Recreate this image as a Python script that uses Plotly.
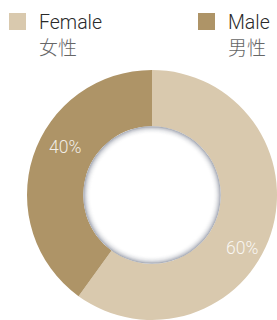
import plotly.graph_objects as go

# ---- data ----
categories = ["Female", "Male"]
categories_zh = ["女性", "男性"]
values = [60, 40]
colors = ["#d9c9ae", "#ae9467"]

W, H = 277, 320
R = 125            # outer radius px
CX, CY = 152, 195  # pie centre px
HOLE = 0.55

def px(x):
    return min(max(x / W, 0), 1)

def py(y):
    return min(max(1 - y / H, 0), 1)

fig = go.Figure()
fig.add_trace(go.Pie(
    labels=categories,
    values=values,
    marker=dict(colors=colors, line=dict(width=0)),
    hole=HOLE,
    sort=False,
    direction="clockwise",
    rotation=0,
    textinfo="none",
    hoverinfo="label+percent",
    showlegend=False,
    domain=dict(x=[px(CX - R), px(CX + R)], y=[py(CY + R), py(CY - R)]),
))

shapes = []
# inner shadow of the hole: stacked filled circles fading to white
inner_r = R * HOLE
edge = (172, 176, 186)
n = 9
for i in range(n + 1):
    t = i / n
    f = (1 - t) ** 2.4
    c = tuple(int(round(255 - (255 - e) * f)) for e in edge)
    rr = inner_r - i * 0.9
    shapes.append(dict(
        type="circle", xref="paper", yref="paper",
        xsizemode="pixel", ysizemode="pixel",
        xanchor=CX / W, yanchor=1 - CY / H,
        x0=-rr, x1=rr, y0=-rr, y1=rr,
        fillcolor="rgb(%d,%d,%d)" % c, line=dict(width=0), layer="above",
    ))

# legend swatches
sw_x = [9, 198]
for xs, col in zip(sw_x, colors):
    shapes.append(dict(
        type="rect", xref="paper", yref="paper",
        x0=px(xs), x1=px(xs + 17), y0=py(30), y1=py(13),
        fillcolor=col, line=dict(width=0),
    ))

annotations = []
for xs, en, zh in zip(sw_x, categories, categories_zh):
    annotations.append(dict(
        x=px(xs + 28), y=py(22.5), xref="paper", yref="paper",
        xanchor="left", yanchor="middle", showarrow=False, text=en,
        font=dict(family="Roboto", size=19.5, color="#2a2a2a", weight=300),
    ))
    annotations.append(dict(
        x=px(xs + 28), y=py(47), xref="paper", yref="paper",
        xanchor="left", yanchor="middle", showarrow=False, text=zh,
        font=dict(family="Noto Sans CJK SC", size=19, color="#666666", weight=300),
    ))

# percentage labels
label_pos = [(241.5, 247.5), (65, 147)]
for (lx, ly), v in zip(label_pos, values):
    annotations.append(dict(
        x=px(lx), y=py(ly), xref="paper", yref="paper",
        xanchor="center", yanchor="middle", showarrow=False,
        text="%d%%" % round(100 * v / sum(values)),
        font=dict(family="Roboto", size=17.5, color="rgba(255,255,255,0.85)", weight=300),
    ))

fig.update_layout(
    width=W, height=H,
    margin=dict(l=0, r=0, t=0, b=0),
    paper_bgcolor="white", plot_bgcolor="white",
    shapes=shapes, annotations=annotations,
)

fig.write_html(
    "out.html",
    config={"displayModeBar": False},
    post_script="document.body.style.margin='0';document.body.style.overflow='hidden';",
)
